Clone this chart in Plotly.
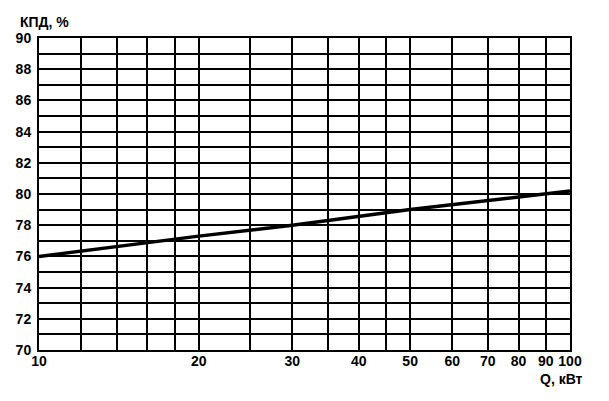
import plotly.graph_objects as go

# Data
q_kw = [10, 20, 30, 50, 100]
efficiency = [76.0, 77.3, 78.0, 79.0, 80.2]

x_label_ticks = [10, 20, 30, 40, 50, 60, 70, 80, 90, 100]
x_minor_grid = [12, 14, 16, 18, 25, 35, 45]
y_label_ticks = [70, 72, 74, 76, 78, 80, 82, 84, 86, 88, 90]

fig = go.Figure()
fig.add_trace(go.Scatter(x=q_kw, y=efficiency, mode="lines",
                         line=dict(color="black", width=3.5), showlegend=False))

font = dict(family="Liberation Sans, Arial, sans-serif", size=14, color="black",
            weight="bold")

# page body adds an 8px offset, so the figure is 8px smaller than the window
fig.update_layout(
    width=601, height=393,
    margin=dict(l=31, r=39, t=30, b=51, autoexpand=False),
    paper_bgcolor="white", plot_bgcolor="white",
    font=font,
    xaxis=dict(type="log", range=[1, 2], tickvals=x_label_ticks,
               ticktext=[str(v) for v in x_label_ticks],
               showgrid=True, gridcolor="black", gridwidth=1.6,
               showline=True, linecolor="black", linewidth=2, mirror=True,
               ticks="", zeroline=False, tickfont=font, automargin=False,
               ticklabelstandoff=-3,
               minor=dict(tickvals=x_minor_grid, showgrid=True,
                          gridcolor="black", gridwidth=1.6, ticks="")),
    yaxis=dict(range=[70, 90], tickvals=y_label_ticks,
               showgrid=True, gridcolor="black", gridwidth=1.6,
               showline=True, linecolor="black", linewidth=2, mirror=True,
               ticks="", zeroline=False, tickfont=font, ticklabelstandoff=3,
               automargin=False,
               minor=dict(dtick=1, showgrid=True, gridcolor="black",
                          gridwidth=1.6, ticks="")),
)

fig.add_annotation(text="КПД, %", xref="paper", yref="paper",
                   x=-21 / 531, y=1 + 16 / 312, xanchor="left", yanchor="middle",
                   showarrow=False, font=font)
fig.add_annotation(text="Q, кВт", xref="paper", yref="paper",
                   x=1 + 15 / 531, y=-29 / 312, xanchor="right", yanchor="middle",
                   showarrow=False, font=font)

fig.write_html("out.html")
